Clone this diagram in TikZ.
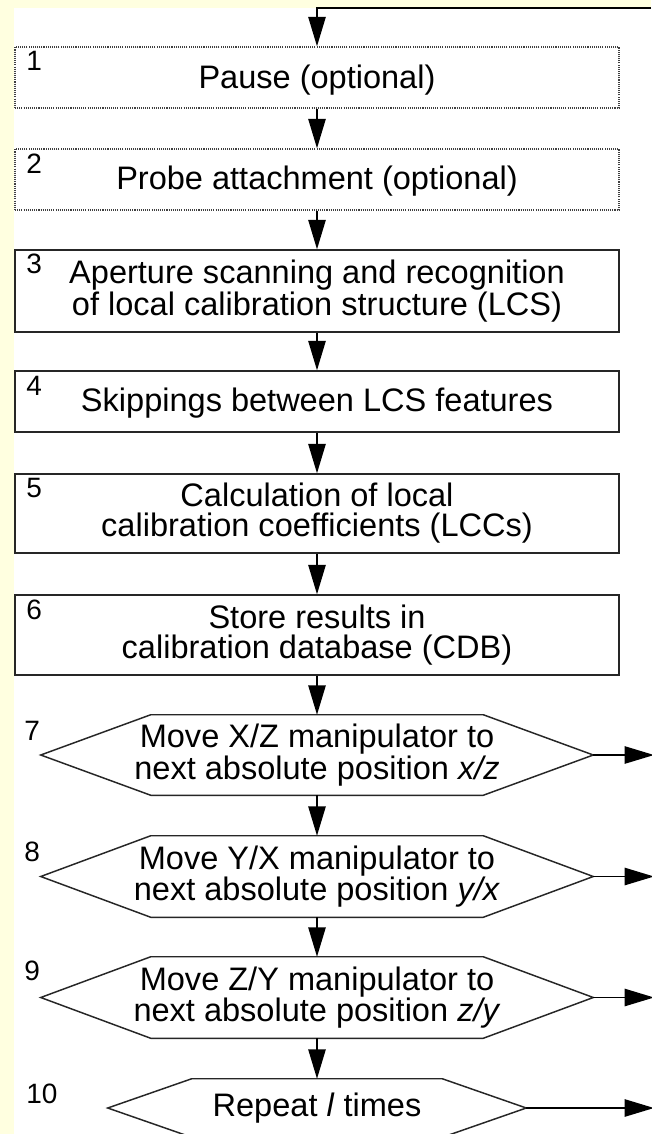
\documentclass[tikz,border=0pt]{standalone}
\usepackage{fontspec}
\setmainfont{Liberation Sans}
\usetikzlibrary{arrows.meta}
\definecolor{paleyellow}{RGB}{255,255,224}
\tikzset{
  stepbox/.style={draw=black!85, line width=1.1pt, minimum width=453pt, inner sep=0pt, align=center, font=\fontsize{24.4}{22.5}\selectfont},
  optbox/.style={stepbox, draw=black!75, dash pattern={on 0.8pt off 0.8pt}},
  hexbox/.style={inner sep=0pt, align=center, font=\fontsize{24.4}{22.5}\selectfont},
  numlbl/.style={anchor=north west, inner sep=0pt, font=\fontsize{21}{21}\selectfont},
  flow/.style={draw=black, line width=1.1pt, -{Triangle[length=22pt,width=13pt]}},
}
\newcommand{\hexframe}[2]{%
  \draw[line width=1.1pt, black!85] (#1.west) -- ([xshift=#2]#1.north west) -- ([xshift=-#2]#1.north east) -- (#1.east) -- ([xshift=-#2]#1.south east) -- ([xshift=#2]#1.south west) -- cycle ;}

\begin{document}
\begin{tikzpicture}[x=0.75pt,y=0.75pt,yscale=-1,xscale=1]
\useasboundingbox (0,0) rectangle (651,1134);
%Shape: Background
\fill[paleyellow] (0,0) rectangle (651,1134);
\fill[white] (14,8) rectangle (651,1134);

%Shape: Rectangle (dotted)
\node (b1) [optbox, minimum height=45.75pt, text height=22pt] at (317,77.5) {Pause (optional)};
%Shape: Rectangle (dotted)
\node (b2) [optbox, minimum height=45.75pt, text height=20pt] at (317,179.5) {Probe attachment (optional)};
%Shape: Rectangle
\node (b3) [stepbox, minimum height=61.5pt] at (317,291) {Aperture scanning and recognition\\of local calibration structure (LCS)};
%Shape: Rectangle
\node (b4) [stepbox, minimum height=45.75pt, text height=20pt] at (317,401.5) {Skippings between LCS features};
%Shape: Rectangle
\node (b5) [stepbox, minimum height=59.25pt] at (317,513.5) {Calculation of local\\calibration coefficients (LCCs)};
%Shape: Rectangle
\node (b6) [stepbox, minimum height=60pt] at (317,635) {Store results in\\calibration database (CDB)};

%Shape: Hexagon
\node (h7) [hexbox, minimum width=414pt, minimum height=60pt] at (317,755) {Move X/Z manipulator to\\next absolute position \textit{x/z}};
\hexframe{h7}{82.5pt}
%Shape: Hexagon
\node (h8) [hexbox, minimum width=414pt, minimum height=60.75pt] at (317,876.5) {Move Y/X manipulator to\\next absolute position \textit{y/x}};
\hexframe{h8}{82.5pt}
%Shape: Hexagon
\node (h9) [hexbox, minimum width=414pt, minimum height=60.75pt] at (317,997.5) {Move Z/Y manipulator to\\next absolute position \textit{z/y}};
\hexframe{h9}{82.5pt}
%Shape: Hexagon
\node (h10) [hexbox, minimum width=313.5pt, minimum height=43.5pt] at (317,1108) {Repeat \textit{l} times};
\hexframe{h10}{63pt}

% Text Node
\node (n1) [numlbl] at (26,51) {1};
% Text Node
\node (n2) [numlbl] at (26,154) {2};
% Text Node
\node (n3) [numlbl] at (26,254) {3};
% Text Node
\node (n4) [numlbl] at (26,376) {4};
% Text Node
\node (n5) [numlbl] at (26,478) {5};
% Text Node
\node (n6) [numlbl] at (26,600) {6};
% Text Node
\node (n7) [numlbl] at (24,721) {7};
% Text Node
\node (n8) [numlbl] at (24,842) {8};
% Text Node
\node (n9) [numlbl] at (24,961) {9};
% Text Node
\node (n10) [numlbl] at (26,1084) {10};

%Straight Lines
\coordinate (loopin) at (651,8);
\coordinate (rim) at (654,0);
\draw[flow] (loopin) -| (b1.north);
\draw[flow] (b1) -- (b2);
\draw[flow] (b2) -- (b3);
\draw[flow] (b3) -- (b4);
\draw[flow] (b4) -- (b5);
\draw[flow] (b5) -- (b6);
\draw[flow] (b6) -- (h7);
\draw[flow] (h7) -- (h8);
\draw[flow] (h8) -- (h9);
\draw[flow] (h9) -- (h10);
%Straight Lines
\draw[flow] (h7.east) -- (h7.east -| rim);
\draw[flow] (h8.east) -- (h8.east -| rim);
\draw[flow] (h9.east) -- (h9.east -| rim);
\draw[flow] (h10.east) -- (h10.east -| rim);

\end{tikzpicture}
\end{document}
